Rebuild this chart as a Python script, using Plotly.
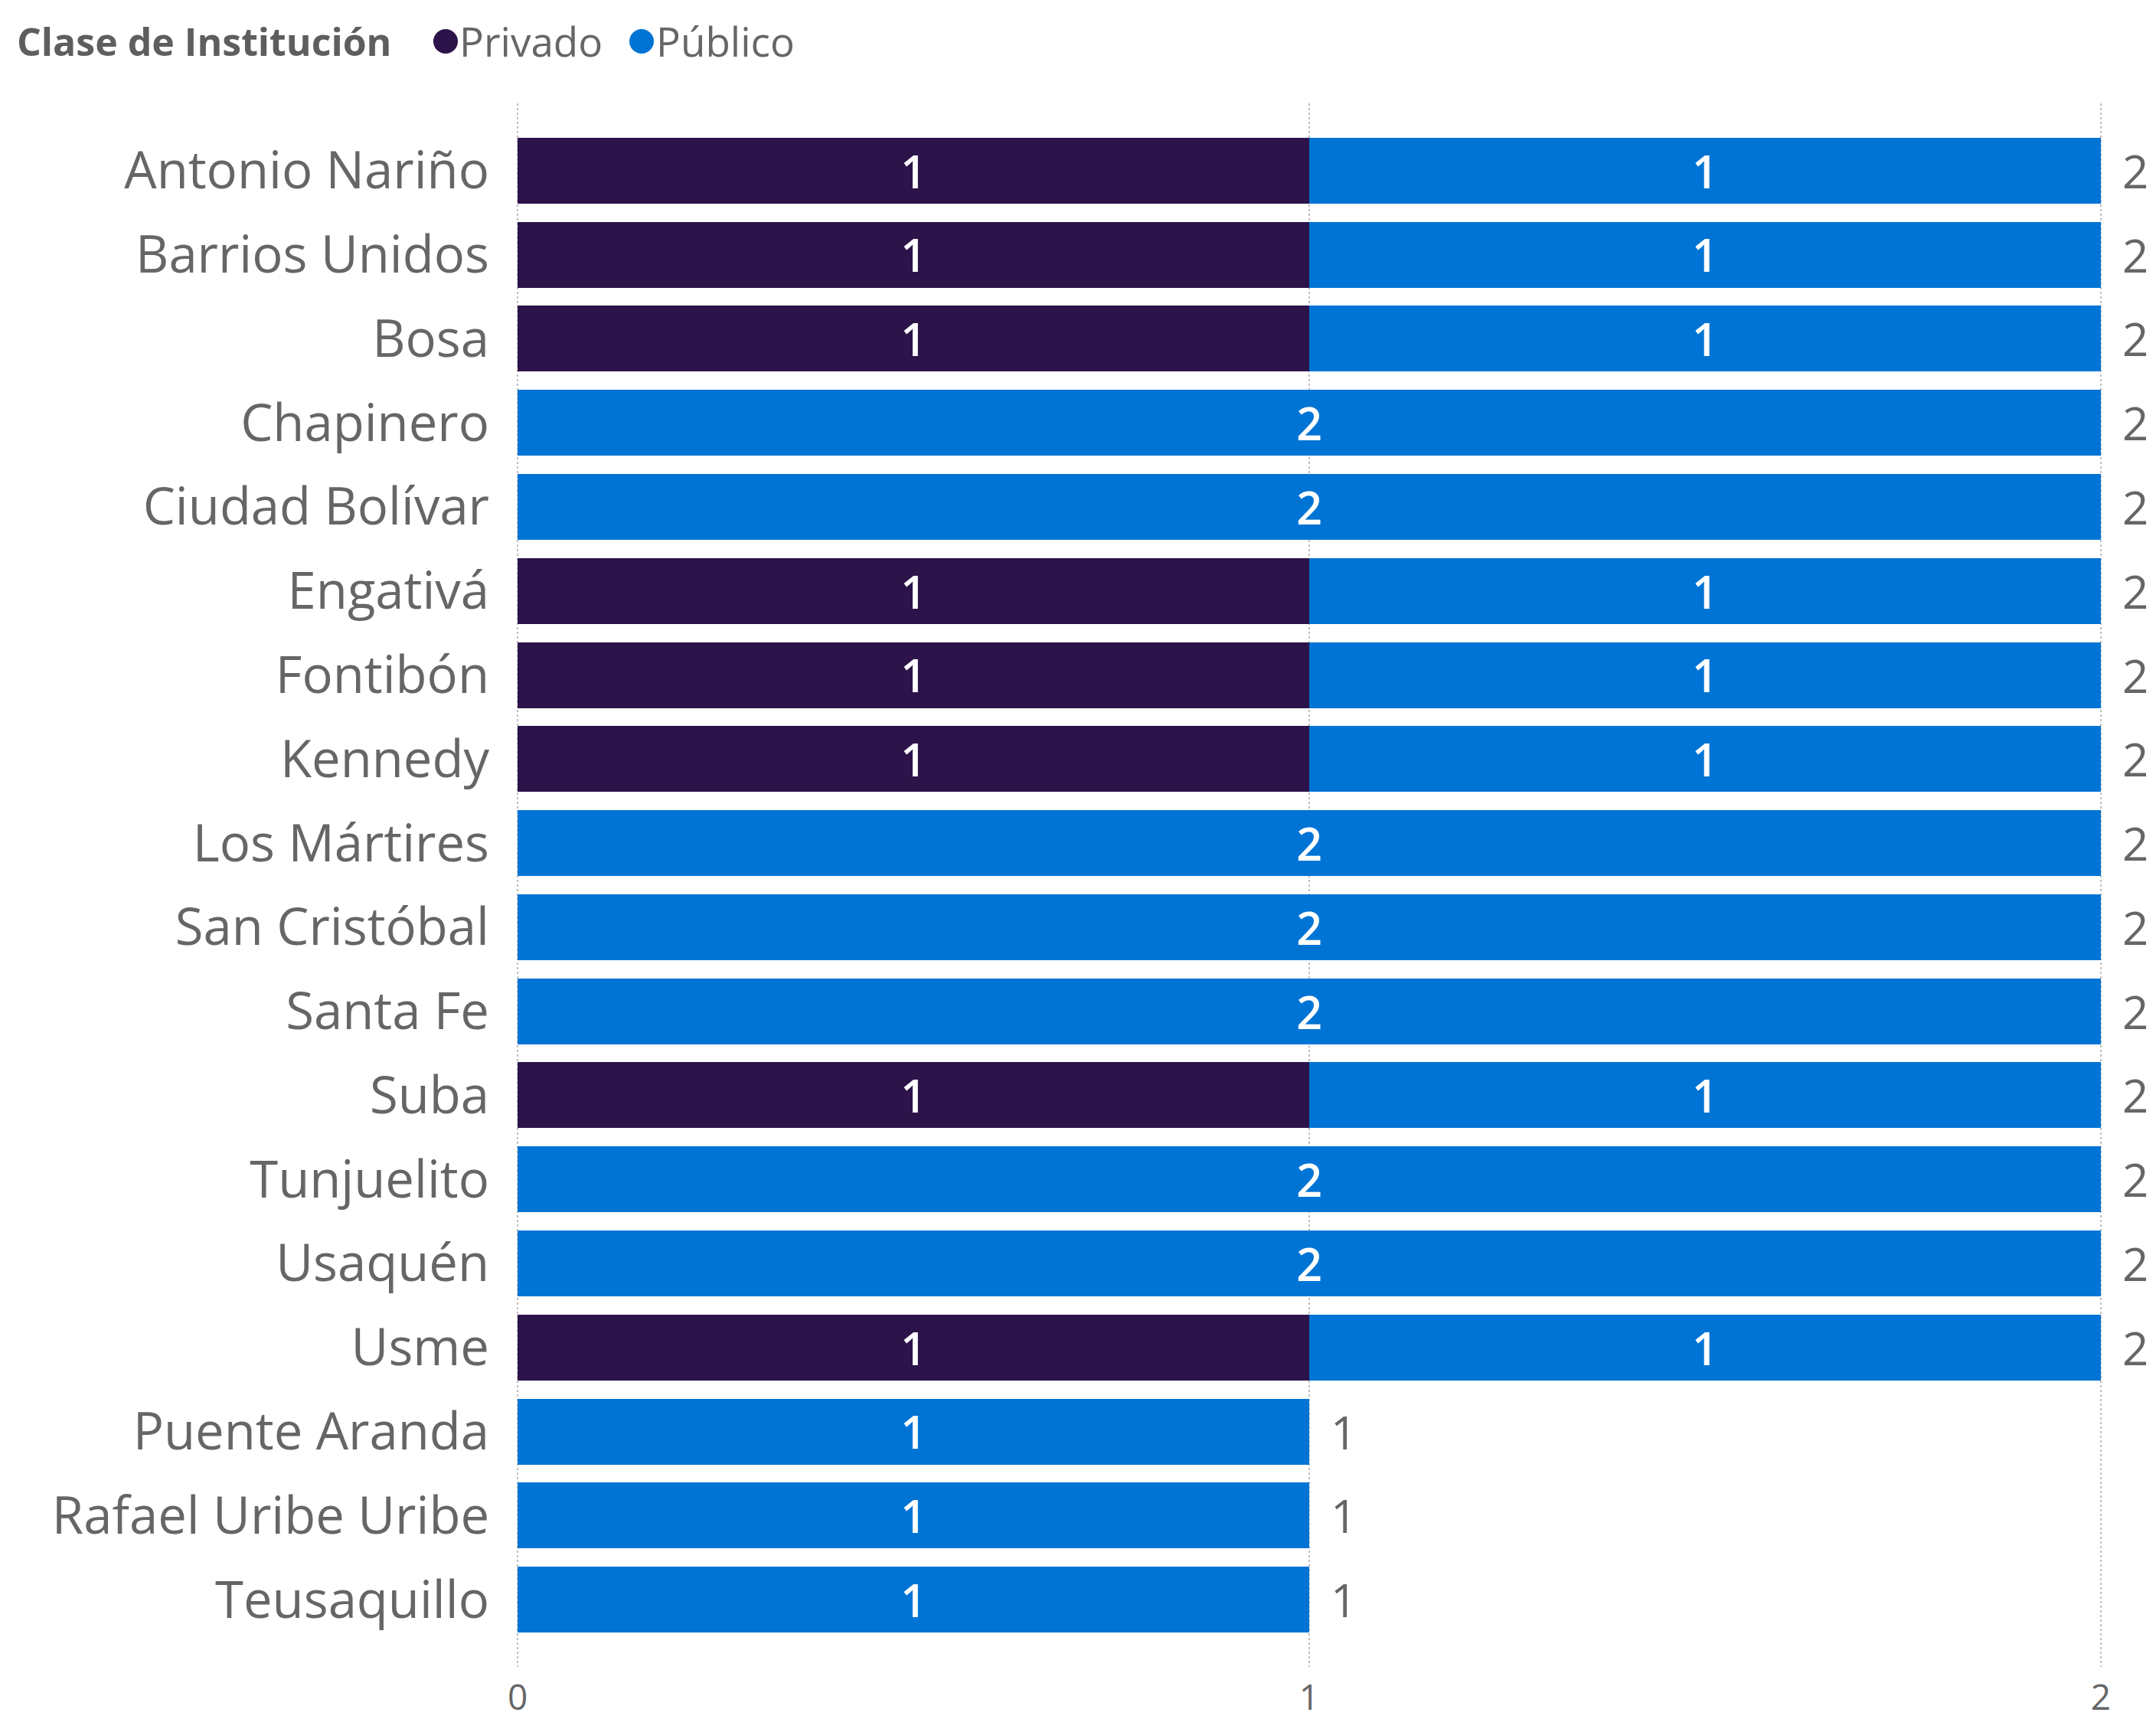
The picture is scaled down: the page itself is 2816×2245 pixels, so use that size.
import plotly.graph_objects as go

categories = ["Antonio Nariño", "Barrios Unidos", "Bosa", "Chapinero", "Ciudad Bolívar",
              "Engativá", "Fontibón", "Kennedy", "Los Mártires", "San Cristóbal",
              "Santa Fe", "Suba", "Tunjuelito", "Usaquén", "Usme",
              "Puente Aranda", "Rafael Uribe Uribe", "Teusaquillo"]
privado = [1, 1, 1, 0, 0, 1, 1, 1, 0, 0, 0, 1, 0, 0, 1, 0, 0, 0]
publico = [1, 1, 1, 2, 2, 1, 1, 1, 2, 2, 2, 1, 2, 2, 1, 1, 1, 1]
series_names = ["Privado", "Público"]
legend_title = "Clase de Institución"
totals = [a + b for a, b in zip(privado, publico)]
x_ticks = [0, 1, 2]

C_PRIV = "#2C1349"
C_PUB = "#0074D4"
GRAY = "#666666"
FONT = "Open Sans, Segoe UI, sans-serif"

W, H = 2816, 2245
L, R, T, B = 666, 78, 127, 76
PW, PH = W - L - R, H - T - B


def px_to_paper_x(px):
    return (px - L) / PW


def py_to_paper_y(py):
    return (H - B - py) / PH


fig = go.Figure()
for vals, col, nm in [(privado, C_PRIV, series_names[0]), (publico, C_PUB, series_names[1])]:
    fig.add_trace(go.Bar(
        y=categories, x=[v if v else None for v in vals], orientation="h",
        marker=dict(color=col, line=dict(width=0)), name=nm,
        text=[str(v) if v else "" for v in vals], textposition="inside",
        insidetextanchor="middle", textangle=0,
        textfont=dict(color="white", size=62, family=FONT, weight=600),
        showlegend=False, hoverinfo="skip"))

for cat, tot in zip(categories, totals):
    fig.add_annotation(x=tot, y=cat, text=str(tot), showarrow=False,
                       xanchor="left", xshift=26,
                       font=dict(size=60, color=GRAY, family=FONT))

# manual legend (Power BI style)
ly = py_to_paper_y(46)
fig.add_annotation(x=px_to_paper_x(12), y=ly, xref="paper", yref="paper",
                   text=f"<b>{legend_title}</b>", showarrow=False, xanchor="left",
                   yanchor="middle", font=dict(size=50, color="#605E5C", family=FONT))
for nm, col, cx, tx in [(series_names[0], C_PRIV, 574, 590), (series_names[1], C_PUB, 830, 847)]:
    fig.add_shape(type="circle", xref="paper", yref="paper",
                  xsizemode="pixel", ysizemode="pixel",
                  xanchor=px_to_paper_x(cx), yanchor=ly,
                  x0=-16, x1=16, y0=-16, y1=16,
                  fillcolor=col, line=dict(width=0))
    fig.add_annotation(x=px_to_paper_x(tx), y=ly, xref="paper", yref="paper",
                       text=nm, showarrow=False, xanchor="left", yanchor="middle",
                       font=dict(size=53, color=GRAY, family=FONT))

fig.update_layout(
    width=W, height=H,
    margin=dict(l=L, r=R, t=T, b=B, autoexpand=False),
    paper_bgcolor="white", plot_bgcolor="white",
    barmode="stack", bargap=0.217, showlegend=False,
    font=dict(family=FONT, color=GRAY),
    xaxis=dict(range=[-0.002, 2.002], tickvals=x_ticks, ticktext=[str(t) for t in x_ticks],
               showgrid=True, gridcolor="#C0C0C0", griddash="dot", gridwidth=2,
               zeroline=False, showline=False, automargin=False,
               tickfont=dict(size=46, color=GRAY), ticks="", ticklabelstandoff=9),
    yaxis=dict(categoryorder="array", categoryarray=categories, range=[17.8, -0.8],
               showgrid=False, zeroline=False, showline=False, automargin=False,
               tickfont=dict(size=67, color=GRAY), ticks="", ticklabelstandoff=34),
)

fig.write_html("out.html")
